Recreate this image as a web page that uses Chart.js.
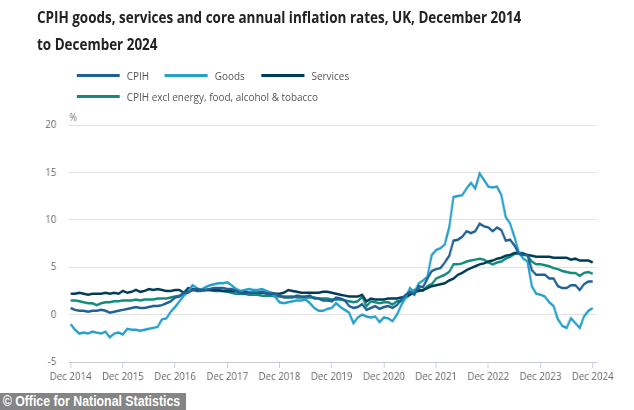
<!DOCTYPE html>
<html>
<head>
<meta charset="utf-8">
<script src="https://cdn.jsdelivr.net/npm/chart.js@4.4.1/dist/chart.umd.min.js"></script>
<style>
  html, body { margin: 0; padding: 0; background: #fff; }
  body { width: 634px; height: 410px; overflow: hidden; position: relative; }
  /* the reference screenshot is squeezed sideways, so the whole page is drawn wider and squeezed back */
  #stage { position: absolute; left: 0; top: 0; width: 720px; height: 410px; transform: scaleX(0.88); transform-origin: 0 0; font-family: 'Open Sans', sans-serif; }
  #title { position: absolute; left: 42px; top: 4px; font-size: 15.3px; font-weight: 700; color: #222; line-height: 27px; white-space: nowrap; }
  .legend-item { position: absolute; font-size: 11.3px; color: #555; line-height: 14px; white-space: nowrap; }
  .legend-item i { display: inline-block; width: 49px; height: 3px; vertical-align: middle; margin-right: 8px; position: relative; top: -1px; }
  #chart-wrap { position: absolute; left: 0; top: 0; width: 720px; height: 410px; }
  #credit { position: absolute; left: 0; top: 393px; width: 208px; height: 17px; padding-left: 3px; background: #858585; color: #fff; font: bold 14px 'Liberation Sans', Arial, sans-serif; line-height: 17px; white-space: nowrap; }
</style>
</head>
<body>
<div id="stage">
  <div id="chart-wrap"><canvas id="inflationChart"></canvas></div>
  <div id="title">CPIH goods, services and core annual inflation rates, UK, December 2014<br>to December 2024</div>
  <div id="legend"></div>
  <div id="credit">© Office for National Statistics</div>
</div>
<script>
// Monthly annual rates (%), Dec 2014 .. Dec 2024 (121 months)
const cpihRate = [0.7,
  0.5, 0.4, 0.4, 0.3, 0.4, 0.4, 0.5, 0.4, 0.2, 0.3, 0.4, 0.5,
  0.6, 0.7, 0.8, 0.7, 0.7, 0.8, 0.9, 0.9, 1.0, 1.2, 1.4, 1.8,
  1.9, 2.3, 2.3, 2.6, 2.7, 2.6, 2.6, 2.7, 2.8, 2.8, 2.8, 2.7,
  2.7, 2.5, 2.3, 2.2, 2.3, 2.3, 2.3, 2.4, 2.2, 2.2, 2.2, 2.0,
  1.8, 1.8, 1.8, 2.0, 1.9, 1.9, 2.0, 1.7, 1.7, 1.5, 1.5, 1.4,
  1.8, 1.7, 1.5, 0.9, 0.7, 0.8, 1.1, 0.5, 0.7, 0.9, 0.6, 0.8,
  0.9, 0.7, 1.0, 1.6, 2.1, 2.4, 2.1, 3.0, 2.9, 3.8, 4.6, 4.8,
  4.9, 5.5, 6.2, 7.8, 7.9, 8.2, 8.8, 8.6, 8.8, 9.6, 9.3, 9.2,
  8.8, 9.2, 8.9, 7.8, 7.9, 7.3, 6.4, 6.3, 6.3, 4.7, 4.2, 4.2,
  4.2, 3.8, 3.8, 3.0, 2.8, 2.8, 3.1, 3.1, 2.6, 3.2, 3.5, 3.5];

const goodsRate = [-1.0,
  -1.6, -2.0, -1.9, -2.0, -1.8, -1.9, -2.0, -1.8, -2.4, -2.0, -1.9, -2.1,
  -1.5, -1.6, -1.6, -1.7, -1.6, -1.5, -1.4, -1.3, -0.5, -0.4, 0.3, 0.8,
  1.4, 2.0, 2.4, 3.1, 2.8, 2.6, 2.9, 3.1, 3.2, 3.3, 3.3, 3.4,
  3.1, 2.7, 2.5, 2.6, 2.7, 2.6, 2.6, 2.7, 2.5, 2.3, 1.9, 1.3,
  1.2, 1.3, 1.4, 1.5, 1.5, 1.6, 1.2, 0.7, 0.4, 0.4, 0.6, 0.7,
  1.2, 0.8, 0.5, 0.2, -0.9, -0.3, 0.0, -0.2, -0.3, -0.2, -0.8, -0.3,
  -0.4, -0.7, 0.0, 1.0, 1.8, 2.8, 2.3, 3.3, 3.6, 4.0, 6.3, 6.8,
  7.0, 7.4, 9.2, 12.4, 12.5, 12.6, 13.3, 13.9, 13.3, 14.9, 14.2, 13.5,
  13.4, 13.5, 12.6, 10.3, 9.6, 8.2, 6.6, 5.9, 5.6, 3.0, 2.2, 2.1,
  1.9, 1.3, 0.9, -0.5, -1.2, -1.4, -0.4, -0.9, -1.4, -0.2, 0.4, 0.7];

const servicesRate = [2.2,
  2.2, 2.3, 2.2, 2.1, 2.2, 2.2, 2.2, 2.3, 2.2, 2.3, 2.2, 2.5,
  2.3, 2.4, 2.6, 2.4, 2.5, 2.7, 2.6, 2.7, 2.6, 2.5, 2.5, 2.6,
  2.6, 2.3, 2.8, 2.7, 2.6, 2.6, 2.6, 2.6, 2.6, 2.6, 2.5, 2.5,
  2.5, 2.5, 2.4, 2.4, 2.3, 2.3, 2.3, 2.3, 2.3, 2.3, 2.2, 2.2,
  2.3, 2.6, 2.5, 2.4, 2.3, 2.3, 2.3, 2.3, 2.3, 2.4, 2.4, 2.3,
  2.2, 2.1, 2.0, 1.9, 1.9, 1.9, 2.1, 1.4, 1.7, 1.6, 1.6, 1.6,
  1.7, 1.7, 1.7, 1.8, 1.9, 2.1, 2.4, 2.5, 2.6, 2.8, 3.0, 3.1,
  3.2, 3.3, 3.6, 3.8, 4.2, 4.4, 4.7, 4.9, 5.1, 5.3, 5.4, 5.6,
  5.7, 5.9, 6.0, 6.2, 6.3, 6.5, 6.5, 6.4, 6.3, 6.2, 6.1, 6.1,
  6.1, 6.1, 6.0, 6.0, 6.0, 6.0, 5.8, 5.9, 5.7, 5.7, 5.7, 5.5];

const coreRate = [1.5,
  1.5, 1.4, 1.3, 1.2, 1.2, 1.0, 1.2, 1.3, 1.3, 1.4, 1.4, 1.5,
  1.5, 1.5, 1.6, 1.5, 1.6, 1.6, 1.6, 1.7, 1.7, 1.7, 1.8, 1.9,
  2.0, 2.2, 2.5, 2.6, 2.5, 2.5, 2.6, 2.6, 2.5, 2.5, 2.5, 2.4,
  2.3, 2.2, 2.2, 2.2, 2.1, 2.1, 2.1, 2.0, 2.0, 2.0, 1.9, 1.9,
  1.9, 1.9, 1.9, 1.8, 1.8, 1.8, 1.8, 1.8, 1.7, 1.7, 1.7, 1.6,
  1.6, 1.6, 1.5, 1.4, 1.3, 1.4, 1.9, 0.9, 1.4, 1.3, 1.2, 1.3,
  1.3, 1.05, 1.4, 1.4, 1.75, 2.1, 2.6, 2.7, 2.5, 3.0, 3.2, 3.8,
  4.0, 4.2, 4.5, 5.3, 5.3, 5.4, 5.6, 5.7, 5.8, 5.9, 5.8, 5.5,
  5.3, 5.5, 5.6, 5.9, 6.1, 6.4, 6.5, 6.5, 6.2, 5.6, 5.3, 5.3,
  5.2, 5.1, 4.9, 4.8, 4.6, 4.5, 4.4, 4.4, 4.1, 4.4, 4.5, 4.3];

const xTickLabels = ['Dec 2014', 'Dec 2015', 'Dec 2016', 'Dec 2017', 'Dec 2018', 'Dec 2019',
  'Dec 2020', 'Dec 2021', 'Dec 2022', 'Dec 2023', 'Dec 2024'];
const yTicks = [-5, 0, 5, 10, 15, 20];

const seriesNames = ['CPIH', 'Goods', 'Services', 'CPIH excl energy, food, alcohol & tobacco'];
const seriesColors = ['#206095', '#27a0cc', '#003c57', '#118c7b'];
const seriesData = [cpihRate, goodsRate, servicesRate, coreRate];

// legend, laid out as in the reference (three on the first row, one on the second)
const legendSpots = [[87, 69], [187, 69], [297, 69], [87, 90]];
const legend = document.getElementById('legend');
seriesNames.forEach((name, i) => {
    const item = document.createElement('div');
    item.className = 'legend-item';
    item.style.left = legendSpots[i][0] + 'px';
    item.style.top = legendSpots[i][1] + 'px';
    item.innerHTML = `<i style="background:${seriesColors[i]}"></i>${name}`;
    legend.appendChild(item);
});

const monthIndex = cpihRate.map((_, i) => i);

const percentLabel = {
    id: 'percentLabel',
    afterDraw(chart) {
        const c = chart.ctx;
        const y = chart.scales.y.getPixelForValue(20);
        c.save();
        c.font = '10px "Open Sans"';
        c.fillStyle = '#707070';
        c.textBaseline = 'middle';
        c.fillText('%', chart.chartArea.left + 1, y - 7);
        c.restore();
    }
};

const ctx = document.getElementById('inflationChart').getContext('2d');
new Chart(ctx, {
    type: 'line',
    data: {
        labels: monthIndex,
        datasets: seriesNames.map((name, i) => ({
            label: name,
            data: seriesData[i],
            borderColor: seriesColors[i],
            backgroundColor: seriesColors[i],
            borderWidth: 2.5,
            pointRadius: 0,
            tension: 0,
            fill: false
        }))
    },
    options: {
        responsive: true,
        maintainAspectRatio: false,
        animation: false,
        devicePixelRatio: 1,
        layout: { padding: { top: 125, right: 42, bottom: 0, left: 0 } },
        plugins: {
            legend: { display: false },
            title: { display: false },
            tooltip: { enabled: false }
        },
        scales: {
            x: {
                type: 'linear',
                min: -0.46,
                max: 120.9,
                afterBuildTicks: scale => { scale.ticks = xTickLabels.map((_, k) => ({ value: k * 12 })); },
                afterFit: scale => { scale.height = 48; },
                ticks: {
                    autoSkip: false,
                    maxRotation: 0,
                    padding: 2,
                    color: '#666',
                    font: { family: 'Open Sans', size: 11 },
                    callback: value => xTickLabels[value / 12]
                },
                grid: { drawOnChartArea: false, drawTicks: true, tickLength: 6, color: '#c5cad6' },
                border: { display: true, color: '#c5cad6' }
            },
            y: {
                min: -5,
                max: 20,
                afterBuildTicks: scale => { scale.ticks = yTicks.map(v => ({ value: v })); },
                afterFit: scale => { scale.width = 78; },
                ticks: {
                    padding: 14,
                    color: '#666',
                    font: { family: 'Open Sans', size: 11 }
                },
                grid: { color: '#e3e3e3', drawTicks: false },
                border: { display: false }
            }
        }
    },
    plugins: [percentLabel]
});
</script>
</body>
</html>
